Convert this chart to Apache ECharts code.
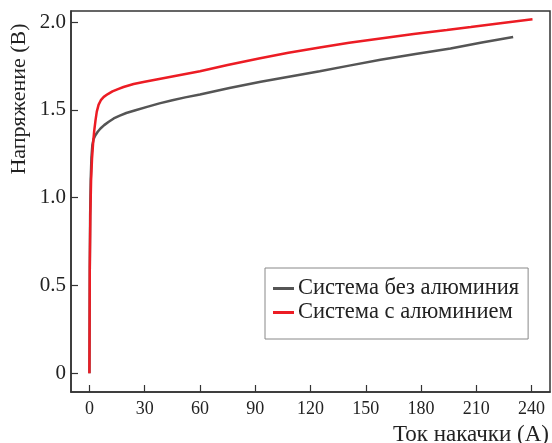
<!DOCTYPE html>
<html>
<head>
<meta charset="utf-8">
<script src="https://cdn.jsdelivr.net/npm/echarts@6/dist/echarts.min.js"></script>
<style>html,body{margin:0;padding:0;background:#fff}#c{width:552px;height:443px}</style>
</head>
<body>
<div id="c"></div>
<script>
var seriesNames = ['Система без алюминия', 'Система с алюминием'];
var xTicks = [0, 30, 60, 90, 120, 150, 180, 210, 240];
var yTicks = [0, 0.5, 1.0, 1.5, 2.0];
var xTitle = 'Ток накачки (А)';
var yTitle = 'Напряжение (В)';

var grayCurrent = [0, 0.1, 0.2, 0.4, 0.7, 1.1, 1.6, 2.3, 3.25, 4.5, 6, 8, 10.5, 13.2, 16.5, 20, 25, 31.3, 38, 45, 52, 60, 76, 93, 109, 125, 141, 158, 177, 196, 213, 230];
var grayVoltage = [0, 0.3, 0.6, 0.9, 1.1, 1.23, 1.3, 1.335, 1.355, 1.375, 1.394, 1.413, 1.432, 1.451, 1.467, 1.482, 1.498, 1.517, 1.537, 1.555, 1.571, 1.587, 1.624, 1.66, 1.69, 1.72, 1.752, 1.785, 1.818, 1.85, 1.883, 1.915];

var redCurrent = [0, 0.1, 0.2, 0.5, 0.9, 1.4, 2.0, 2.6, 3.3, 4.0, 5.0, 6.2, 7.8, 10, 12.5, 15.5, 18.5, 24, 30, 40, 50, 60, 75, 92, 108, 125, 141, 158, 176, 194, 207, 222, 240.5];
var redVoltage = [0, 0.3, 0.6, 0.9, 1.1, 1.22, 1.31, 1.38, 1.44, 1.49, 1.53, 1.555, 1.574, 1.59, 1.605, 1.618, 1.63, 1.647, 1.66, 1.68, 1.70, 1.72, 1.755, 1.793, 1.825, 1.855, 1.882, 1.907, 1.932, 1.955, 1.972, 1.992, 2.016];

function pairs(xs, ys) { return xs.map(function (x, i) { return [x, ys[i]]; }); }

var serif = 'Liberation Serif, Times New Roman, serif';
var chart = echarts.init(document.getElementById('c'), null, {renderer: 'canvas'});
chart.setOption({
  animation: false,
  grid: {left: 71, right: 2, top: 11, bottom: 51, show: true, borderColor: '#333', borderWidth: 1.5, backgroundColor: '#fff'},
  xAxis: {
    type: 'value', min: -10, max: 250,
    axisLine: {show: true, onZero: false, lineStyle: {color: '#333', width: 1.5}},
    axisTick: {show: true, inside: true, length: 7, customValues: xTicks, lineStyle: {color: '#333', width: 1.2}},
    axisLabel: {customValues: xTicks, color: '#222', fontFamily: serif, fontSize: 18, margin: 8},
    splitLine: {show: false}
  },
  yAxis: {
    type: 'value', min: -0.107, max: 2.063,
    axisLine: {show: true, onZero: false, lineStyle: {color: '#333', width: 1.5}},
    axisTick: {show: true, inside: true, length: 7, customValues: yTicks, lineStyle: {color: '#333', width: 1.2}},
    axisLabel: {customValues: yTicks, color: '#222', fontFamily: serif, fontSize: 21, margin: 5,
      formatter: function (v) { return v === 0 ? '0' : v.toFixed(1); }},
    splitLine: {show: false}
  },
  legend: {
    orient: 'vertical', left: 265, top: 268,
    backgroundColor: '#fff', borderColor: '#888', borderWidth: 1,
    padding: [9, 9, 15, 8], itemGap: 1, itemWidth: 21, itemHeight: 3, icon: 'rect',
    textStyle: {fontFamily: serif, fontSize: 22.5, color: '#222', padding: [0, 0, 0, -1]},
    data: seriesNames
  },
  graphic: [
    {type: 'text', x: 19, y: 99, rotation: Math.PI / 2,
      style: {text: yTitle, fontFamily: serif, fontSize: 22, fill: '#222', align: 'center', verticalAlign: 'middle'}},
    {type: 'text', x: 549, y: 435,
      style: {text: xTitle, fontFamily: serif, fontSize: 23, fill: '#222', align: 'right', verticalAlign: 'middle'}}
  ],
  series: [
    {name: seriesNames[0], type: 'line', data: pairs(grayCurrent, grayVoltage), showSymbol: false,
      smooth: false, color: '#555', lineStyle: {color: '#555', width: 2.5}, z: 2},
    {name: seriesNames[1], type: 'line', data: pairs(redCurrent, redVoltage), showSymbol: false,
      smooth: false, color: '#ec1c24', lineStyle: {color: '#ec1c24', width: 2.5}, z: 3}
  ]
});
</script>
</body>
</html>
